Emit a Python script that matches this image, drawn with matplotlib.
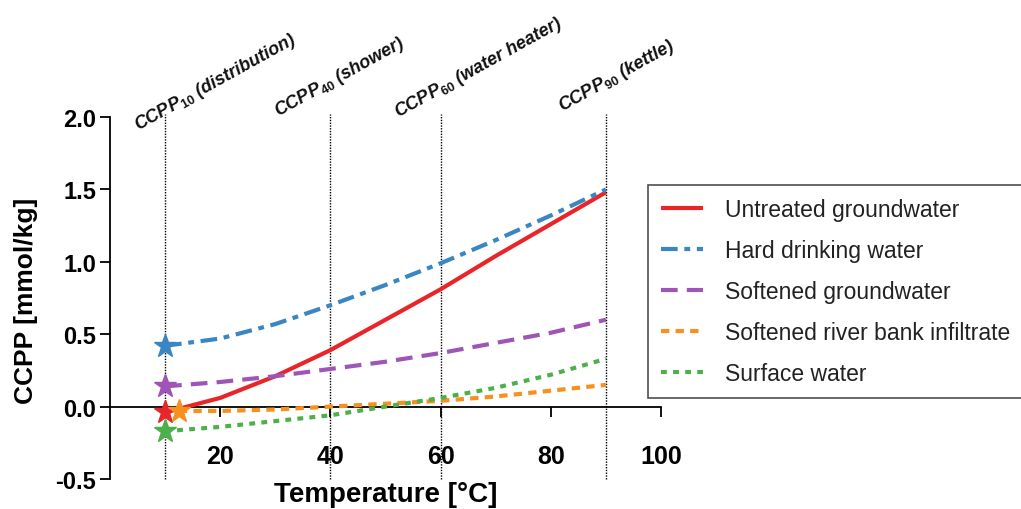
import matplotlib.pyplot as plt
from matplotlib.lines import Line2D

plt.rcParams['font.family'] = ['Liberation Sans', 'DejaVu Sans']
plt.rcParams['mathtext.fontset'] = 'custom'
plt.rcParams['mathtext.rm'] = 'Liberation Sans:bold'
plt.rcParams['mathtext.it'] = 'Liberation Sans:bold:italic'
plt.rcParams['mathtext.bf'] = 'Liberation Sans:bold'

temps = [10, 20, 30, 40, 50, 60, 70, 80, 90]
untreated = [-0.04, 0.06, 0.21, 0.39, 0.60, 0.81, 1.04, 1.26, 1.48]
hard = [0.42, 0.47, 0.57, 0.70, 0.84, 0.99, 1.15, 1.32, 1.50]
softened_gw = [0.14, 0.17, 0.21, 0.26, 0.31, 0.37, 0.44, 0.51, 0.60]
river_temps = [12.5, 20, 30, 40, 50, 60, 70, 80, 90]
river = [-0.03, -0.03, -0.02, 0.0, 0.02, 0.04, 0.07, 0.11, 0.15]
surface = [-0.17, -0.14, -0.10, -0.06, 0.0, 0.06, 0.13, 0.22, 0.33]

labels = ['Untreated groundwater', 'Hard drinking water', 'Softened groundwater',
          'Softened river bank infiltrate', 'Surface water']
colors = ['#e8262a', '#3a86c2', '#9e55b5', '#f7901e', '#4db04a']

ccpp_temps = [10, 40, 60, 90]
ccpp_names = [r'$\mathit{CCPP}_{\mathrm{10}}$ (distribution)',
              r'$\mathit{CCPP}_{\mathrm{40}}$ (shower)',
              r'$\mathit{CCPP}_{\mathrm{60}}$ (water heater)',
              r'$\mathit{CCPP}_{\mathrm{90}}$ (kettle)']
name_pos = [(5.1, 1.91), (30.6, 2.01), (52.3, 2.0), (82.1, 2.04)]

xticks = [20, 40, 60, 80, 100]
yticks = [-0.5, 0.0, 0.5, 1.0, 1.5, 2.0]

fig = plt.figure(figsize=(10.21, 5.10), dpi=100)
ax = fig.add_axes([0.1077, 0.0588, 0.5397, 0.7098])

series = [(temps, untreated), (temps, hard), (temps, softened_gw),
          (river_temps, river), (temps, surface)]
styles = [(0, ()), (0, (4, 1.6, 1.4, 1.6)), (0, (4, 2.2)),
          (0, (2, 1.5)), (0, (1.4, 1.5))]

for (xs, ys), lab, c, ls in zip(series, labels, colors, styles):
    ax.plot(xs, ys, color=c, lw=3, linestyle=ls, label=lab, zorder=3)
    ax.plot(xs[0], ys[0], marker='*', color=c, markersize=17, zorder=4,
            linestyle='none')

for t in ccpp_temps:
    ax.vlines(t, -0.5, 2.02, colors='black', linestyles=(0, (1, 1)), lw=1,
              zorder=2, clip_on=False)

for (px, py), name in zip(name_pos, ccpp_names):
    ax.text(px, py, name, rotation=29, rotation_mode='anchor', ha='left',
            va='baseline', fontsize=13, style='italic', fontweight='bold',
            color='#111111', clip_on=False)

ax.set_xlim(0, 100)
ax.set_ylim(-0.5, 2.0)
ax.spines['top'].set_visible(False)
ax.spines['right'].set_visible(False)
ax.spines['bottom'].set_position(('data', 0))
ax.spines['left'].set_linewidth(1.3)
ax.spines['bottom'].set_linewidth(1.3)

ax.set_xticks(xticks)
ax.set_xticklabels([str(v) for v in xticks], fontsize=18, fontweight='bold')
ax.set_yticks(yticks)
ax.set_yticklabels(['%.1f' % v for v in yticks], fontsize=17, fontweight='bold')
ax.tick_params(axis='x', direction='out', length=7, width=1.3, pad=20)
ax.tick_params(axis='y', direction='out', length=7, width=1.3, pad=3)

fig.text(0.378, 0.029, 'Temperature [°C]', ha='center', va='center',
         fontsize=20, fontweight='bold')
fig.text(0.0255, 0.41, 'CCPP [mmol/kg]', ha='center', va='center',
         rotation=90, fontsize=19, fontweight='bold')

handles = [Line2D([], [], color=c, lw=3, linestyle=ls) for c, ls in zip(colors, styles)]
leg = fig.legend(handles, labels, loc='upper left', bbox_to_anchor=(0.6347, 0.635),
                 fontsize=16.5, frameon=True, fancybox=False, edgecolor='#222222',
                 handlelength=1.85, labelspacing=0.79, borderpad=0.55,
                 handletextpad=0.95, borderaxespad=0)
leg.get_frame().set_linewidth(1.2)
for txt in leg.get_texts():
    txt.set_color('#222222')

fig.savefig('out.png', dpi=100)
